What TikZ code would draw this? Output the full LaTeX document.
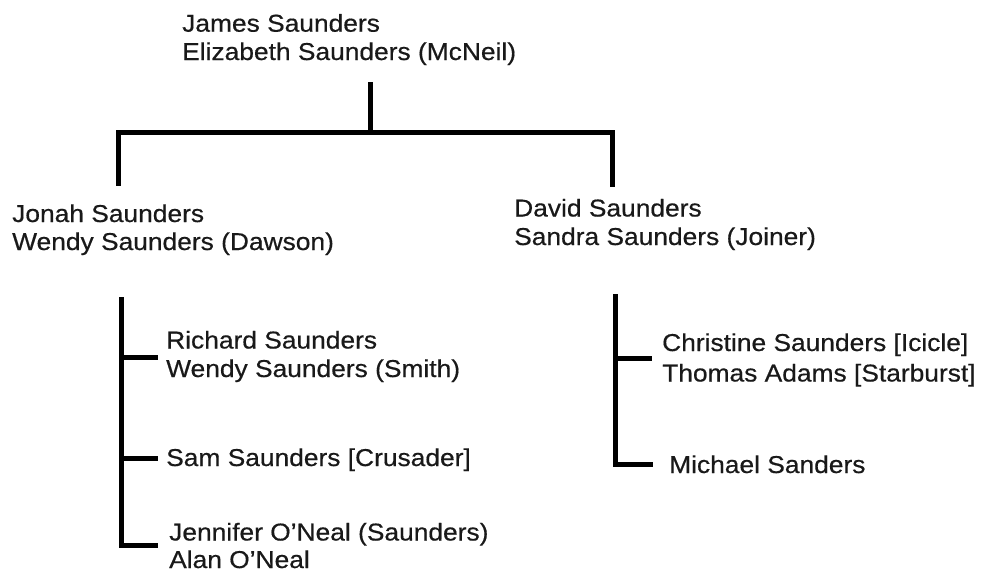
\documentclass[tikz,border=0pt]{standalone}
\usepackage{fontspec}
\setmainfont{Liberation Sans}[FakeStretch=1.08,FakeBold=0.5]
\tikzset{
  person/.style={anchor=base west, inner sep=0pt, font=\fontsize{24.4}{28}\selectfont, text=black!90},
  link/.style={line width=5pt, black, line cap=rect, line join=miter}
}
\begin{document}
\begin{tikzpicture}[x=1pt, y=-1pt]
\useasboundingbox (0,0) rectangle (987,573);
% texts
\node[person] (james) at (182,31.7) {James Saunders};
\node[person] (elizabeth) at (182,60) {Elizabeth Saunders (McNeil)};
\node[person] (jonah) at (12,222) {Jonah Saunders};
\node[person] (wendyd) at (12,250) {Wendy Saunders (Dawson)};
\node[person] (david) at (514,216.5) {David Saunders};
\node[person] (sandra) at (514,245) {Sandra Saunders (Joiner)};
\node[person] (richard) at (166,348.5) {Richard Saunders};
\node[person] (wendys) at (166,377) {Wendy Saunders (Smith)};
\node[person] (sam) at (166,466) {Sam Saunders [Crusader]};
\node[person] (jennifer) at (169,540.5) {Jennifer O’Neal (Saunders)};
\node[person] (alan) at (169,568) {Alan O’Neal};
\node[person] (christine) at (662,351) {Christine Saunders [Icicle]};
\node[person] (thomas) at (662,381.5) {Thomas Adams [Starburst]};
\node[person] (michael) at (669,473) {Michael Sanders};
% connector points
\coordinate (ptop) at (370,84);
\coordinate (pbar) at (370,132);
\coordinate (pl) at (118,132);
\coordinate (pr) at (612,132);
\coordinate (pldown) at (118,183);
\coordinate (prdown) at (612,184);
\coordinate (lt) at (121,299);
\coordinate (lb) at (121,545);
\coordinate (l1) at (121,357);
\coordinate (l2) at (121,458);
\coordinate (rt) at (615,296);
\coordinate (rb) at (615,464);
\coordinate (r1) at (615,358);
% top tree
\draw[link] (ptop) -- (pbar);
\draw[link] (pldown) -- (pl) -- (pr) -- (prdown);
% left bracket
\draw[link] (lt) -- (lb) -- ([xshift=-13.5pt]lb -| jennifer.west);
\draw[link] (l1) -- ([xshift=-10.5pt]l1 -| richard.west);
\draw[link] (l2) -- ([xshift=-10.5pt]l2 -| sam.west);
% right bracket
\draw[link] (rt) -- (rb) -- ([xshift=-19pt]rb -| michael.west);
\draw[link] (r1) -- ([xshift=-13pt]r1 -| christine.west);
\end{tikzpicture}
\end{document}
